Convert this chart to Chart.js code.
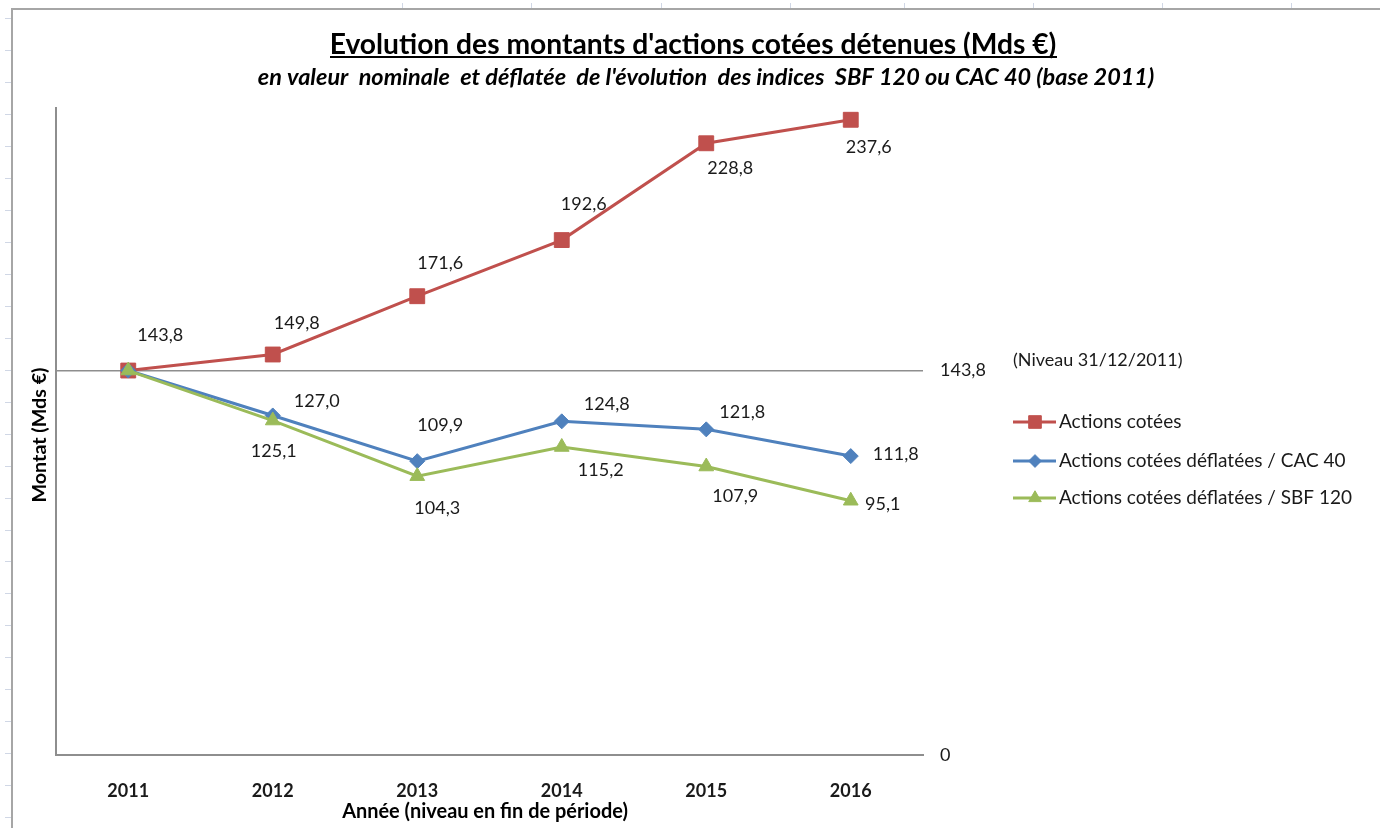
<!DOCTYPE html>
<html>
<head>
<meta charset="utf-8">
<script src="https://cdn.jsdelivr.net/npm/chart.js@4/dist/chart.umd.min.js"></script>
<style>
  html, body { margin: 0; padding: 0; background: #fff; }
  canvas { display: block; }
</style>
</head>
<body>
<canvas id="chart" width="1380" height="828"></canvas>
<script>
// données (Mds €)
const years = ['2011', '2012', '2013', '2014', '2015', '2016'];
const cotees = [143.8, 149.8, 171.6, 192.6, 228.8, 237.6];
const deflCac = [143.8, 127.0, 109.9, 124.8, 121.8, 111.8];
const deflSbf = [143.8, 125.1, 104.3, 115.2, 107.9, 95.1];
const refTicks = [0, 143.8];

const FONT = 'Lato, "Open Sans", sans-serif';
const RED = '#C0504D', BLUE = '#4F81BD', GREEN = '#9BBB59';

// décalage des étiquettes par rapport au point (null = pas d'étiquette)
const offRed = [[32, -35], [24, -31], [23, -33], [22, -36], [24, 25], [18, 27]];
const offBlue = [null, [44, -14], [23, -36], [45, -17], [36, -17], [45, -2]];
const offGreen = [null, [1, 31], [20, 32], [39, 23], [29, 30], [32, 3]];

const fmt = (v) => v === 0 ? '0' : v.toFixed(1).replace('.', ',');

// taille de police pour une largeur donnée
const fitFont = (ctx, text, style, width) => {
    ctx.font = style + ' 20px ' + FONT;
    const size = 20 * width / ctx.measureText(text).width;
    return style + ' ' + size.toFixed(2) + 'px ' + FONT;
};

// fond façon feuille Excel
const sheetPlugin = {
    id: 'sheet',
    beforeDraw(chart) {
        const ctx = chart.ctx;
        ctx.save();
        ctx.fillStyle = '#fff';
        ctx.fillRect(0, 0, chart.width, chart.height);
        ctx.strokeStyle = '#d0d7e5';
        ctx.lineWidth = 1;
        [402, 531, 661, 790, 904, 1033, 1162, 1291].forEach((x) => {
            ctx.beginPath(); ctx.moveTo(x + 0.5, 3); ctx.lineTo(x + 0.5, 9); ctx.stroke();
        });
        for (let y = 18; y < chart.height; y += 31.97) {
            ctx.beginPath(); ctx.moveTo(5, Math.round(y) + 0.5); ctx.lineTo(12, Math.round(y) + 0.5); ctx.stroke();
        }
        ctx.strokeStyle = '#a6a6a6';
        ctx.lineWidth = 2;
        ctx.beginPath();
        ctx.moveTo(12, chart.height);
        ctx.lineTo(12, 9);
        ctx.lineTo(chart.width, 9);
        ctx.stroke();
        ctx.restore();
    }
};

// titres, étiquettes et légende
const textPlugin = {
    id: 'texts',
    afterDraw(chart) {
        const ctx = chart.ctx;
        ctx.save();
        ctx.fillStyle = '#000';
        ctx.textBaseline = 'middle';
        ctx.textAlign = 'center';

        const title = "Evolution des montants d'actions cotées détenues (Mds €)";
        ctx.font = fitFont(ctx, title, 'bold', 727);
        ctx.fillText(title, 693, 45);
        ctx.fillRect(330, 56, 727, 2);

        const sub = "en valeur  nominale  et déflatée  de l'évolution  des indices  SBF 120 ou CAC 40 (base 2011)";
        ctx.font = fitFont(ctx, sub, 'italic bold', 897);
        ctx.fillText(sub, 706, 77);

        const xt = 'Année (niveau en fin de période)';
        ctx.font = fitFont(ctx, xt, 'bold', 286);
        ctx.fillText(xt, 485, 812);

        const yt = 'Montat (Mds €)';
        ctx.save();
        ctx.translate(40, 435);
        ctx.rotate(-Math.PI / 2);
        ctx.font = fitFont(ctx, yt, 'bold', 135);
        ctx.fillText(yt, 0, 0);
        ctx.restore();

        ctx.font = '18px ' + FONT;
        ctx.fillStyle = '#1a1a1a';
        const offs = [offRed, offBlue, offGreen];
        chart.data.datasets.forEach((ds, i) => {
            chart.getDatasetMeta(i).data.forEach((pt, j) => {
                const o = offs[i][j];
                if (!o) return;
                ctx.fillText(fmt(ds.data[j]), pt.x + o[0], pt.y + o[1]);
            });
        });

        ctx.textAlign = 'left';
        ctx.font = '18px ' + FONT;
        ctx.fillText('(Niveau 31/12/2011)', 1013, 360);

        // légende
        ctx.font = '19px ' + FONT;
        const rows = [422, 461, 498];
        chart.data.datasets.forEach((ds, i) => {
            const y = rows[i];
            ctx.strokeStyle = ds.borderColor;
            ctx.lineWidth = 3;
            ctx.beginPath(); ctx.moveTo(1013, y); ctx.lineTo(1056, y); ctx.stroke();
            ctx.fillStyle = ds.borderColor;
            ctx.strokeStyle = ds.borderColor;
            ctx.lineWidth = 1;
            Chart.helpers.drawPoint(ctx, { pointStyle: ds.pointStyle, radius: ds.pointRadius * 0.85, rotation: 0, borderWidth: 1 }, 1035, y);
            ctx.fillStyle = '#1a1a1a';
            ctx.fillText(ds.label, 1059, y);
        });
        ctx.restore();
    }
};

const ds = (label, data, color, style, r, order) => ({
    label, data,
    borderColor: color,
    backgroundColor: color,
    pointBackgroundColor: color,
    pointBorderColor: color,
    pointBorderWidth: 1,
    pointStyle: style,
    pointRadius: r,
    borderWidth: 3,
    tension: 0,
    order,
    yAxisID: 'y'
});

new Chart(document.getElementById('chart'), {
    type: 'line',
    data: {
        labels: years,
        datasets: [
            ds('Actions cotées', cotees, RED, 'rect', 10.5, 3),
            ds('Actions cotées déflatées / CAC 40', deflCac, BLUE, 'rectRot', 7.5, 2),
            ds('Actions cotées déflatées / SBF 120', deflSbf, GREEN, 'triangle', 8.5, 1)
        ]
    },
    options: {
        responsive: false,
        animation: false,
        events: [],
        layout: { padding: { left: 56, top: 108, right: 0, bottom: 0 } },
        plugins: { legend: { display: false }, title: { display: false }, tooltip: { enabled: false } },
        scales: {
            x: {
                offset: true,
                grid: { display: false },
                border: { display: true, color: '#8e8e8e', width: 2 },
                ticks: { color: '#1a1a1a', font: { family: FONT, size: 18, weight: 'bold' }, padding: 17, maxRotation: 0 },
                afterFit: (s) => { s.height = 73; }
            },
            y: {
                position: 'left',
                min: 0, max: 242,
                grid: { display: false },
                border: { display: true, color: '#8e8e8e', width: 2 },
                ticks: { display: false },
                afterFit: (s) => { s.width = 0; }
            },
            yR: {
                position: 'right',
                min: 0, max: 242,
                afterBuildTicks: (s) => { s.ticks = refTicks.map((v) => ({ value: v })); },
                grid: { display: true, drawOnChartArea: true, drawTicks: false, color: '#8e8e8e', lineWidth: 1.5 },
                border: { display: false },
                ticks: { color: '#1a1a1a', font: { family: FONT, size: 18 }, padding: 17, callback: (v) => fmt(v) },
                afterFit: (s) => { s.width = 457; }
            }
        }
    },
    plugins: [sheetPlugin, textPlugin]
});
</script>
</body>
</html>
